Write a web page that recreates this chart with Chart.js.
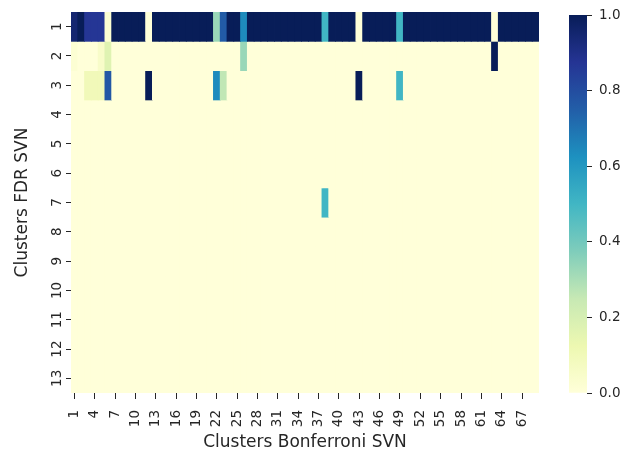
<!DOCTYPE html>
<html lang="en">
<head>
<meta charset="UTF-8">
<title>Clusters FDR SVN vs Bonferroni SVN</title>
<script src="https://cdn.jsdelivr.net/npm/chart.js"></script>
<style>
  body { margin: 0; background: #fff; }
  #wrap { position: relative; width: 628px; height: 454px; }
  #heat { position: absolute; left: 0; top: 0; }
  #cbar { position: absolute; left: 555px; top: 0; }
</style>
</head>
<body>
<div id="wrap">
  <canvas id="heat" width="550" height="454"></canvas>
  <canvas id="cbar" width="73" height="454"></canvas>
</div>
<script>
// columns = Bonferroni clusters, rows = FDR clusters
const colLabels = ['1','2','3','4','5','6','7','8','9','10','11','12','13','14','15','16','17','18','19','20',
  '21','22','23','24','25','26','27','28','29','30','31','32','33','34','35','36','37','38','39','40',
  '41','42','43','44','45','46','47','48','49','50','51','52','53','54','55','56','57','58','59','60',
  '61','62','63','64','65','66','67','68','69'];
const rowLabels = [1, 2, 3, 4, 5, 6, 7, 8, 9, 10, 11, 12, 13];

const row1 = [0.95,1,0.87,0.87,0.87,0.02,1,1,1,1,
  1,0,1,1,1,1,1,1,1,1,
  1,0.33,0.76,1,1,0.64,1,1,1,1,
  1,1,1,1,1,1,1,0.5,1,1,
  1,1,0,1,1,1,1,1,0.5,1,
  1,1,1,1,1,1,1,1,1,1,
  1,1,0,1,1,1,1,1,1];
const row2 = [0.02,0,0,0,0.05,0.17,0,0,0,0,
  0,0,0,0,0,0,0,0,0,0,
  0,0,0,0,0,0.33,0,0,0,0,
  0,0,0,0,0,0,0,0,0,0,
  0,0,0,0,0,0,0,0,0,0,
  0,0,0,0,0,0,0,0,0,0,
  0,0,1,0,0,0,0,0,0];
const row3 = [0,0,0.1,0.1,0.1,0.77,0,0,0,0,
  0,1,0,0,0,0,0,0,0,0,
  0,0.64,0.26,0,0,0,0,0,0,0,
  0,0,0,0,0,0,0,0,0,0,
  0,0,1,0,0,0,0,0,0.5,0,
  0,0,0,0,0,0,0,0,0,0,
  0,0,0,0,0,0,0,0,0];
const row7 = [0,0,0,0,0,0,0,0,0,0,
  0,0,0,0,0,0,0,0,0,0,
  0,0,0,0,0,0,0,0,0,0,
  0,0,0,0,0,0,0,0.5,0,0,
  0,0,0,0,0,0,0,0,0,0,
  0,0,0,0,0,0,0,0,0,0,
  0,0,0,0,0,0,0,0,0];
const blankRow = [0,0,0,0,0,0,0,0,0,0,
  0,0,0,0,0,0,0,0,0,0,
  0,0,0,0,0,0,0,0,0,0,
  0,0,0,0,0,0,0,0,0,0,
  0,0,0,0,0,0,0,0,0,0,
  0,0,0,0,0,0,0,0,0,0,
  0,0,0,0,0,0,0,0,0];
const rows = [row1, row2, row3, blankRow, blankRow, blankRow, row7,
  blankRow, blankRow, blankRow, blankRow, blankRow, blankRow];

const cbTicks = [0, 0.2, 0.4, 0.6, 0.8, 1.0];

// YlGnBu
const cmapStops = ['#ffffd9','#edf8b1','#c7e9b4','#7fcdbb','#41b6c4','#1d91c0','#225ea8','#253494','#081d58'];

function hexToRgb(h) {
  return [parseInt(h.slice(1,3),16), parseInt(h.slice(3,5),16), parseInt(h.slice(5,7),16)];
}
function ylgnbu(v) {
  const t = Math.max(0, Math.min(1, v)) * (cmapStops.length - 1);
  const i = Math.min(Math.floor(t), cmapStops.length - 2);
  const f = t - i;
  const a = hexToRgb(cmapStops[i]), b = hexToRgb(cmapStops[i + 1]);
  const c = a.map((x, k) => Math.round(x + (b[k] - x) * f));
  return `rgb(${c[0]},${c[1]},${c[2]})`;
}

Chart.defaults.font.family = 'DejaVu Sans';
Chart.defaults.font.size = 13.5;
Chart.defaults.color = '#262626';

const textColor = '#262626';
const titleFont = { size: 17 };

const datasets = rows.map((vals, r) => ({
  label: 'FDR ' + rowLabels[r],
  data: vals.map(() => [rowLabels[r] - 0.5, rowLabels[r] + 0.5]),
  backgroundColor: vals.map(ylgnbu),
  borderWidth: 0,
  barPercentage: 1,
  categoryPercentage: 1,
  grouped: false,
  inflateAmount: 0.4
}));

new Chart(document.getElementById('heat'), {
  type: 'bar',
  data: { labels: colLabels, datasets },
  options: {
    responsive: false,
    animation: false,
    layout: { padding: { top: 12, right: 11, left: 0, bottom: 0 } },
    plugins: { legend: { display: false }, tooltip: { enabled: false } },
    scales: {
      x: {
        type: 'category',
        grid: { drawOnChartArea: false, offset: false, tickLength: 6, tickColor: textColor, tickWidth: 1 },
        border: { display: false },
        ticks: { autoSkip: false, minRotation: 90, maxRotation: 90, padding: 11, color: textColor },
        afterBuildTicks: axis => { axis.ticks = axis.ticks.filter((t, i) => i % 3 === 0); },
        afterFit: axis => { axis.height = 61; },
        title: { display: true, text: 'Clusters Bonferroni SVN', color: textColor, font: titleFont, padding: { top: 0, bottom: 1 } }
      },
      y: {
        type: 'linear',
        min: 0.5,
        max: 13.5,
        reverse: true,
        grid: { drawOnChartArea: false, tickLength: 5, tickColor: textColor, tickWidth: 1 },
        border: { display: false },
        ticks: { padding: 0, color: textColor, minRotation: 90, maxRotation: 90, crossAlign: 'center' },
        afterBuildTicks: axis => { axis.ticks = rowLabels.map(v => ({ value: v })); },
        afterFit: axis => { axis.width = 71; },
        title: { display: true, text: 'Clusters FDR SVN', color: textColor, font: titleFont, padding: { top: 12, bottom: 0 } }
      }
    }
  }
});

new Chart(document.getElementById('cbar'), {
  type: 'bar',
  data: {
    labels: [''],
    datasets: [{
      data: [[0, 1]],
      borderWidth: 0,
      barPercentage: 1,
      categoryPercentage: 1,
      backgroundColor: ctx => {
        const area = ctx.chart.chartArea;
        if (!area) return cmapStops[0];
        const g = ctx.chart.ctx.createLinearGradient(0, area.bottom, 0, area.top);
        cmapStops.forEach((c, i) => g.addColorStop(i / (cmapStops.length - 1), c));
        return g;
      }
    }]
  },
  options: {
    responsive: false,
    animation: false,
    layout: { padding: { top: 13, left: 14, right: 0, bottom: 61 } },
    plugins: { legend: { display: false }, tooltip: { enabled: false } },
    scales: {
      x: { display: false },
      y: {
        position: 'right',
        min: 0,
        max: 1,
        grid: { drawOnChartArea: false, tickLength: 5, tickColor: textColor },
        border: { display: false },
        ticks: { padding: 7, color: textColor, callback: v => v.toFixed(1) },
        afterBuildTicks: axis => { axis.ticks = cbTicks.map(v => ({ value: v })); },
        afterFit: axis => { axis.width = 41; }
      }
    }
  }
});
</script>
</body>
</html>
